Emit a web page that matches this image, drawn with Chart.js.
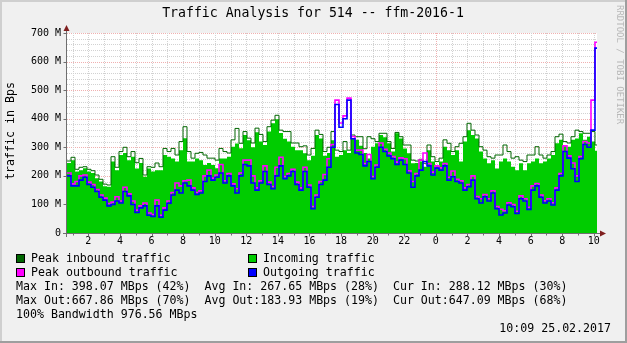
<!DOCTYPE html>
<html>
<head>
<meta charset="utf-8">
<title>Traffic Analysis for 514 -- ffm-2016-1</title>
<script src="https://cdn.jsdelivr.net/npm/chart.js@4/dist/chart.umd.min.js"></script>
<style>
  html, body { margin: 0; padding: 0; background: #f0f0f0; }
  canvas { display: block; }
</style>
</head>
<body>
<canvas id="traffic" width="627" height="343"></canvas>
<script>
// Time axis: hours since 00:00 of the first day; samples every ~15 minutes.
const START_HOUR = 0.65;
const END_HOUR = 34.2;
const STEP_HOURS = 0.2532;
const hourLabels = [2, 4, 6, 8, 10, 12, 14, 16, 18, 20, 22, 24, 26, 28, 30, 32, 34];
const yTicks = [0, 100, 200, 300, 400, 500, 600, 700];

// Traffic in MBps
const peakIn = [
  252, 265, 223, 230, 232, 223, 218, 203, 188, 171, 168, 267, 230, 285, 300, 267, 285, 246, 261, 203,
  232, 230, 245, 232, 296, 285, 296, 273, 320, 372, 285, 262, 279, 282, 273, 262, 262, 255, 296, 285,
  280, 326, 366, 314, 355, 332, 315, 367, 345, 320, 372, 395, 412, 360, 355, 355, 315, 315, 302, 305,
  273, 296, 360, 345, 285, 300, 355, 290, 285, 320, 290, 343, 337, 337, 295, 337, 330, 320, 349, 349,
  320, 296, 352, 337, 308, 308, 255, 252, 258, 244, 308, 267, 250, 262, 326, 314, 285, 302, 314, 337,
  384, 360, 343, 302, 290, 267, 262, 273, 273, 308, 285, 262, 267, 255, 250, 273, 273, 302, 273, 262,
  273, 285, 337, 346, 320, 315, 337, 360, 355, 349, 349, 355, 308
];
const incoming = [
  245, 255, 215, 220, 227, 215, 210, 192, 180, 164, 162, 250, 220, 273, 280, 255, 267, 226, 245, 197,
  226, 215, 220, 220, 273, 267, 261, 250, 290, 332, 250, 250, 261, 255, 238, 245, 238, 227, 261, 261,
  267, 302, 313, 297, 343, 325, 300, 353, 320, 308, 355, 384, 398.07, 350, 330, 320, 302, 290, 290, 279,
  255, 270, 343, 331, 270, 280, 325, 267, 273, 290, 280, 331, 326, 305, 280, 261, 302, 314, 343, 335,
  314, 285, 349, 331, 296, 279, 244, 245, 250, 232, 290, 250, 238, 250, 302, 290, 273, 290, 250, 320,
  360, 343, 331, 285, 261, 244, 255, 226, 250, 261, 250, 232, 220, 244, 220, 244, 250, 261, 244, 250,
  261, 273, 314, 326, 308, 302, 326, 331, 349, 326, 337, 320, 288.12
];
const peakOut = [
  210, 172, 180, 200, 203, 178, 170, 152, 133, 122, 103, 108, 127, 112, 160, 137, 112, 80, 95, 105,
  70, 65, 115, 62, 88, 112, 142, 175, 165, 183, 185, 158, 142, 148, 200, 220, 192, 203, 240, 183,
  208, 172, 155, 210, 255, 255, 200, 158, 183, 235, 178, 163, 230, 265, 198, 208, 223, 178, 158, 230,
  168, 93, 133, 180, 205, 260, 310, 465, 385, 410, 472, 338, 290, 290, 243, 275, 198, 238, 315, 293,
  280, 268, 248, 263, 260, 218, 180, 208, 255, 280, 243, 213, 235, 228, 243, 195, 217, 188, 183, 158,
  170, 200, 128, 120, 135, 120, 148, 93, 83, 78, 106, 100, 76, 130, 120, 90, 165, 173, 133, 113,
  120, 106, 158, 208, 305, 270, 245, 200, 268, 320, 315, 465, 667.86
];
const outgoing = [
  200, 165, 165, 185, 195, 170, 160, 145, 125, 115, 95, 100, 112, 105, 145, 130, 100, 72, 88, 95,
  62, 58, 95, 55, 80, 104, 133, 150, 140, 175, 165, 150, 135, 140, 180, 200, 185, 195, 210, 175,
  200, 165, 140, 200, 240, 235, 175, 150, 175, 215, 170, 155, 200, 235, 190, 200, 215, 170, 150, 215,
  160, 85, 125, 170, 185, 230, 300, 450, 370, 400, 465, 330, 280, 275, 235, 250, 190, 230, 300, 285,
  270, 260, 240, 255, 240, 210, 160, 200, 220, 250, 235, 203, 227, 220, 235, 185, 197, 180, 175, 150,
  162, 185, 120, 105, 127, 112, 140, 85, 63, 70, 98, 92, 68, 120, 112, 82, 150, 165, 125, 105,
  112, 98, 150, 200, 285, 262, 225, 180, 260, 310, 300, 360, 647.09
];

// Summary figures printed under the graph (MBps / percent of link)
const bandwidth = 976.56;
const statIn = { max: 398.07, maxPct: 42, avg: 267.65, avgPct: 28, cur: 288.12, curPct: 30 };
const statOut = { max: 667.86, maxPct: 70, avg: 183.93, avgPct: 19, cur: 647.09, curPct: 68 };
const stamp = '10:09 25.02.2017';

const MONO = '"DejaVu Sans Mono", "Liberation Mono", monospace';

function toSteps(values) {
  const pts = values.map((v, i) => ({ x: START_HOUR + i * STEP_HOURS, y: v }));
  pts.push({ x: END_HOUR, y: values[values.length - 1] });
  return pts;
}

function fmt(v) { return v.toFixed(2); }

// Background, frame, grid, axes and the text block of an rrdtool-style graph
const rrdLook = {
  id: 'rrdLook',
  beforeDraw(chart) {
    const { ctx, width, height, chartArea: a } = chart;
    ctx.save();
    ctx.fillStyle = '#f0f0f0';
    ctx.fillRect(0, 0, width, height);
    ctx.fillStyle = '#cfcfcf';
    ctx.fillRect(0, 0, width, 2);
    ctx.fillRect(0, 0, 2, height);
    ctx.fillStyle = '#9e9e9e';
    ctx.fillRect(0, height - 2, width, 2);
    ctx.fillRect(width - 2, 0, 2, height);
    ctx.fillStyle = '#ffffff';
    ctx.fillRect(a.left, a.top, a.right - a.left, a.bottom - a.top);
    ctx.restore();
  },
  beforeDatasetsDraw(chart) {
    const { ctx, chartArea: a, scales: { x, y } } = chart;
    const minor = '#d2d2d2';
    const major = '#f0b0b0';
    ctx.save();
    ctx.lineWidth = 1;
    ctx.setLineDash([1, 1]);
    // horizontal: minor every 20 M, major every 100 M
    for (let v = 20; v <= 700; v += 20) {
      const py = Math.round(y.getPixelForValue(v)) + 0.5;
      ctx.strokeStyle = v % 100 === 0 ? major : minor;
      ctx.beginPath();
      ctx.moveTo(a.left, py);
      ctx.lineTo(a.right, py);
      ctx.stroke();
    }
    // vertical: every hour, midnight in red
    for (let h = Math.ceil(START_HOUR); h <= END_HOUR; h++) {
      const px = Math.round(x.getPixelForValue(h)) + 0.5;
      ctx.strokeStyle = h % 24 === 0 ? major : minor;
      ctx.beginPath();
      ctx.moveTo(px, a.top);
      ctx.lineTo(px, a.bottom);
      ctx.stroke();
    }
    ctx.restore();
  },
  afterDatasetsDraw(chart) {
    const { ctx, chartArea: a, scales: { x, y } } = chart;
    const ax = a.left - 0.5;
    const ay = a.bottom + 0.5;
    ctx.save();
    ctx.strokeStyle = '#6f6f6f';
    ctx.lineWidth = 1;
    ctx.beginPath();
    ctx.moveTo(ax, a.bottom + 4);
    ctx.lineTo(ax, a.top - 4);
    ctx.moveTo(a.left - 4, ay);
    ctx.lineTo(a.right + 3, ay);
    // tick marks
    yTicks.forEach(v => {
      const py = Math.round(y.getPixelForValue(v)) + 0.5;
      ctx.moveTo(ax - 3, py);
      ctx.lineTo(ax, py);
    });
    for (let h = Math.ceil(START_HOUR); h <= END_HOUR; h++) {
      const px = Math.round(x.getPixelForValue(h)) + 0.5;
      ctx.moveTo(px, ay);
      ctx.lineTo(px, ay + (h % 2 === 0 ? 3 : 2));
    }
    ctx.stroke();
    // arrow heads
    ctx.fillStyle = '#7f1f1f';
    ctx.beginPath();
    ctx.moveTo(ax - 3, a.top - 2);
    ctx.lineTo(ax + 3, a.top - 2);
    ctx.lineTo(ax, a.top - 8);
    ctx.closePath();
    ctx.fill();
    ctx.beginPath();
    ctx.moveTo(a.right + 3, ay - 3);
    ctx.lineTo(a.right + 3, ay + 3);
    ctx.lineTo(a.right + 9, ay);
    ctx.closePath();
    ctx.fill();
    ctx.restore();
  },
  afterDraw(chart) {
    const { ctx } = chart;
    const ds = chart.data.datasets;
    ctx.save();
    ctx.fillStyle = '#000';
    ctx.textBaseline = 'middle';

    // title
    ctx.font = '13.2px ' + MONO;
    ctx.textAlign = 'center';
    ctx.fillText('Traffic Analysis for 514 -- ffm-2016-1', 313, 14);

    // vertical axis title
    ctx.font = '11.6px ' + MONO;
    ctx.save();
    ctx.translate(11, 131);
    ctx.rotate(-Math.PI / 2);
    ctx.fillText('traffic in Bps', 0, 0);
    ctx.restore();

    // side credit
    ctx.save();
    ctx.font = '9px ' + MONO;
    ctx.fillStyle = '#b8b8b8';
    ctx.textAlign = 'left';
    ctx.translate(619, 5);
    ctx.rotate(Math.PI / 2);
    ctx.fillText('RRDTOOL / TOBI OETIKER', 0, 0);
    ctx.restore();

    // legend: two columns
    ctx.font = '11.6px ' + MONO;
    ctx.textAlign = 'left';
    const legendOrder = [1, 0, 2, 3];
    legendOrder.forEach((di, k) => {
      const d = ds[di];
      const bx = k % 2 === 0 ? 16 : 248;
      const by = 259 + Math.floor(k / 2) * 14;
      ctx.fillStyle = d.legendColor;
      ctx.fillRect(bx, by - 5, 9, 9);
      ctx.strokeStyle = '#000';
      ctx.lineWidth = 1;
      ctx.strokeRect(bx + 0.5, by - 4.5, 8, 8);
      ctx.fillStyle = '#000';
      ctx.fillText(d.label, bx + 15, by);
    });

    const rowIn = 'Max In: ' + fmt(statIn.max) + ' MBps (' + statIn.maxPct + '%)  ' +
                  'Avg In: ' + fmt(statIn.avg) + ' MBps (' + statIn.avgPct + '%)  ' +
                  'Cur In: ' + fmt(statIn.cur) + ' MBps (' + statIn.curPct + '%)';
    const rowOut = 'Max Out:' + fmt(statOut.max) + ' MBps (' + statOut.maxPct + '%)  ' +
                   'Avg Out:' + fmt(statOut.avg) + ' MBps (' + statOut.avgPct + '%)  ' +
                   'Cur Out:' + fmt(statOut.cur) + ' MBps (' + statOut.curPct + '%)';
    ctx.fillText(rowIn, 16, 287);
    ctx.fillText(rowOut, 16, 301);
    ctx.fillText('100% Bandwidth ' + fmt(bandwidth) + ' MBps', 16, 315);

    ctx.textAlign = 'right';
    ctx.fillText(stamp, 611, 329);
    ctx.restore();
  }
};

const line = (label, values, color, width, order, extra) => Object.assign({
  label,
  data: toSteps(values),
  stepped: 'before',
  borderColor: color,
  legendColor: color,
  borderWidth: width,
  pointRadius: 0,
  fill: false,
  order
}, extra || {});

new Chart(document.getElementById('traffic'), {
  type: 'line',
  data: {
    datasets: [
      line('Incoming traffic', incoming, '#00cc00', 0, 4, { fill: 'origin', backgroundColor: '#00cc00' }),
      line('Peak inbound traffic', peakIn, '#006600', 1, 3),
      line('Peak outbound traffic', peakOut, '#ff00ff', 1.6, 2),
      line('Outgoing traffic', outgoing, '#0000ff', 1.6, 1)
    ]
  },
  options: {
    responsive: false,
    animation: false,
    devicePixelRatio: 1,
    layout: { padding: { left: 0, right: 30, top: 33, bottom: 0 } },
    plugins: { legend: { display: false }, tooltip: { enabled: false }, title: { display: false } },
    scales: {
      x: {
        type: 'linear',
        min: START_HOUR,
        max: END_HOUR,
        afterBuildTicks: s => { s.ticks = hourLabels.map(v => ({ value: v })); },
        afterFit: s => { s.height = 110; },
        grid: { display: false, drawTicks: false },
        border: { display: false },
        ticks: {
          autoSkip: false,
          maxRotation: 0,
          padding: 2,
          color: '#000',
          font: { family: MONO, size: 10 },
          callback: v => String(v % 24)
        }
      },
      y: {
        min: 0,
        max: 700,
        afterBuildTicks: s => { s.ticks = yTicks.map(v => ({ value: v })); },
        afterFit: s => { s.width = 67; },
        grid: { display: false, drawTicks: false },
        border: { display: false },
        ticks: {
          padding: 6,
          color: '#000',
          font: { family: MONO, size: 10 },
          callback: v => v === 0 ? '0' : v + ' M'
        }
      }
    }
  },
  plugins: [rrdLook]
});
</script>
</body>
</html>
